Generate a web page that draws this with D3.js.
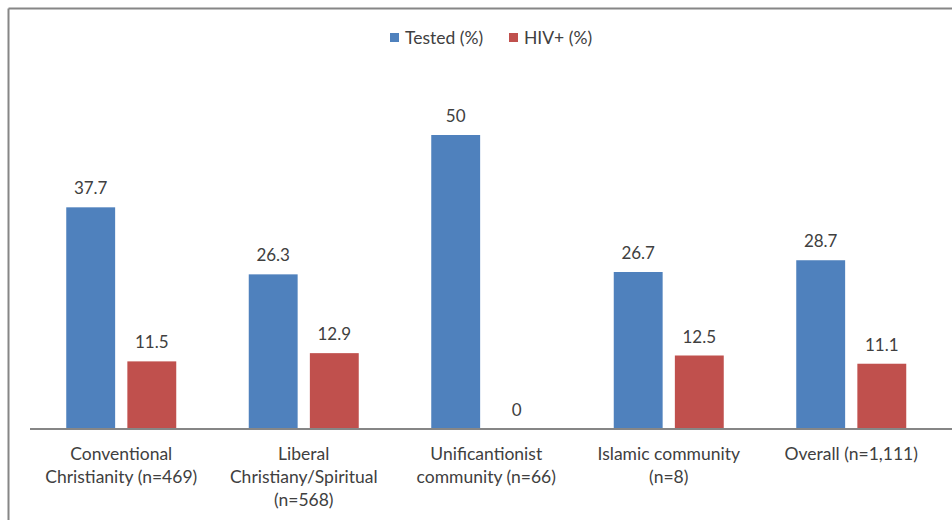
<!DOCTYPE html>
<html>
<head>
<meta charset="utf-8">
<script src="https://cdn.jsdelivr.net/npm/d3@7"></script>
<style>
  html, body { margin: 0; padding: 0; background: #fff; }
  svg { display: block; font-family: Lato, "Open Sans", sans-serif; }
</style>
</head>
<body>
<svg id="chart" width="952" height="520"></svg>
<script>
// Categories (each label split into display lines)
const categories = [
  ["Conventional", "Christianity (n=469)"],
  ["Liberal", "Christiany/Spiritual", "(n=568)"],
  ["Unificantionist", "community (n=66)"],
  ["Islamic community", "(n=8)"],
  ["Overall (n=1,111)"]
];
const seriesNames = ["Tested (%)", "HIV+ (%)"];
const tested = [37.7, 26.3, 50, 26.7, 28.7];
const hivPositive = [11.5, 12.9, 0, 12.5, 11.1];
const colors = ["#4F81BD", "#C0504D"];

const W = 952, H = 520;
const svg = d3.select("#chart");
const textColor = "#404040";

// Frame lines (left and top)
svg.append("line").attr("x1", 8.5).attr("y1", 8.5).attr("x2", W).attr("y2", 8.5)
  .attr("stroke", "#868686").attr("stroke-width", 2);
svg.append("line").attr("x1", 8.5).attr("y1", 8.5).attr("x2", 8.5).attr("y2", H)
  .attr("stroke", "#868686").attr("stroke-width", 2);

const plot = { left: 30, right: 942.5, top: 76.2, bottom: 429 };

const x0 = d3.scaleBand()
  .domain(d3.range(categories.length))
  .range([plot.left, plot.right]);

const x1 = d3.scaleBand()
  .domain([0, 1])
  .range([x0.bandwidth() / 2 - 55, x0.bandwidth() / 2 + 55])
  .paddingInner(0.2);

const y = d3.scaleLinear().domain([0, 60]).range([plot.bottom, plot.top]);

const rows = categories.map((c, i) => [tested[i], hivPositive[i]]);

const groups = svg.append("g").selectAll("g")
  .data(rows)
  .join("g")
  .attr("transform", (d, i) => `translate(${x0(i)},0)`);

groups.selectAll("rect")
  .data(d => d.map((v, s) => ({ v, s })))
  .join("rect")
  .attr("x", d => x1(d.s))
  .attr("width", x1.bandwidth())
  .attr("y", d => y(d.v))
  .attr("height", d => y(0) - y(d.v))
  .attr("fill", d => colors[d.s]);

groups.selectAll("text.val")
  .data(d => d.map((v, s) => ({ v, s })))
  .join("text")
  .attr("class", "val")
  .attr("x", d => x1(d.s) + x1.bandwidth() / 2)
  .attr("y", d => y(d.v) - 13)
  .attr("text-anchor", "middle")
  .attr("font-size", 17)
  .attr("fill", textColor)
  .text(d => d.v);

// Category axis
const xAxis = svg.append("g")
  .attr("transform", `translate(0,${plot.bottom})`)
  .call(d3.axisBottom(x0).tickSize(0).tickFormat(""));
xAxis.select(".domain").attr("stroke", "#868686").attr("stroke-width", 2)
  .attr("d", `M${plot.left},0H${W}`);

svg.append("g").selectAll("text")
  .data(categories)
  .join("text")
  .attr("x", (d, i) => x0(i) + x0.bandwidth() / 2)
  .attr("y", plot.bottom + 31)
  .attr("text-anchor", "middle")
  .attr("font-size", 17.5)
  .attr("fill", textColor)
  .selectAll("tspan")
  .data(d => d)
  .join("tspan")
  .attr("x", function () { return this.parentNode.getAttribute("x"); })
  .attr("dy", (d, i) => i === 0 ? 0 : 23)
  .text(d => d);

// Legend
const legendItems = [{ x: 390, name: seriesNames[0], c: colors[0] },
                     { x: 509, name: seriesNames[1], c: colors[1] }];
const lg = svg.append("g").selectAll("g").data(legendItems).join("g")
  .attr("transform", d => `translate(${d.x},33)`);
lg.append("rect").attr("width", 9).attr("height", 9).attr("fill", d => d.c);
lg.append("text").attr("x", 15).attr("y", 10.5).attr("font-size", 17.5)
  .attr("fill", textColor).text(d => d.name);
</script>
</body>
</html>
